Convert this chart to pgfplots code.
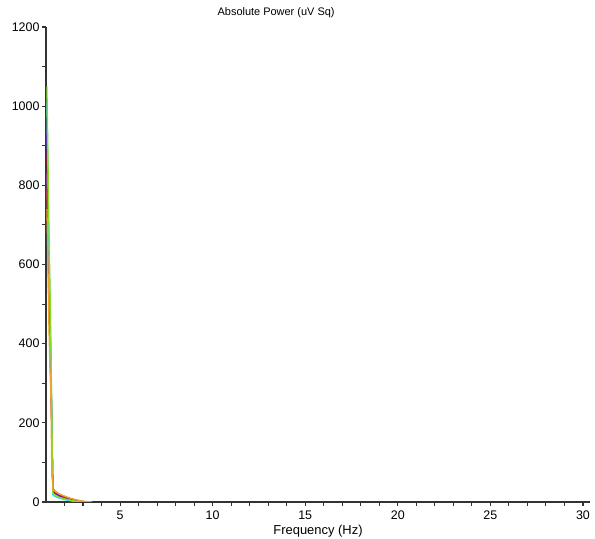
\documentclass[border=0pt]{standalone}
\usepackage{pgfplots}
\pgfplotsset{compat=1.18}
\usepackage{fontspec}
\setmainfont{Liberation Sans}

\definecolor{cgreen}{HTML}{88DD22}
\definecolor{ccyan}{HTML}{33DDDD}
\definecolor{cpurple}{HTML}{7A1FE0}
\definecolor{cdred}{HTML}{A01010}
\definecolor{cmag}{HTML}{B050F0}
\definecolor{cred}{HTML}{F04010}
\definecolor{corange}{HTML}{F0A030}
\definecolor{axgray}{HTML}{333333}

\begin{document}
\begin{tikzpicture}
\begin{axis}[
  scale only axis,
  width=544bp, height=475bp,
  xmin=1, xmax=30.38,
  ymin=0, ymax=1200,
  axis lines=left,
  axis line style={axgray, line width=1.5pt, -},
  xtick={5,10,...,30},
  minor xtick={2,3,...,30},
  ytick={0,200,...,1200},
  minor ytick={100,300,...,1100},
  tick align=outside,
  major tick length=4bp,
  minor tick length=4bp,
  tick style={axgray, line width=1.1pt},
  ticklabel style={font=\fontsize{12.5}{14}\selectfont},
  /pgf/number format/assume math mode=true,
  /pgf/number format/1000 sep={},
  yticklabel style={xshift=1bp},
  xticklabel style={yshift=-1bp},
  xlabel={Frequency (Hz)},
  xlabel style={font=\fontsize{13}{15}\selectfont, yshift=1bp},
  title={Absolute Power (uV Sq)},
  title style={font=\fontsize{11}{12}\selectfont, at={(axis description cs:0.423,1)}, anchor=south, yshift=0bp},
  clip=true,
  every axis plot/.append style={line width=1.3pt},
]
\addplot[cred] coordinates {(1.05,790)(1.10,680)(1.15,520)(1.21,400)(1.26,300)(1.31,195)(1.37,35)(1.48,28)(1.7,20)(2.0,13)(2.3,8)(2.6,4)(2.9,1)(3.2,0)};
\addplot[cmag] coordinates {(1.05,830)(1.10,720)(1.15,560)(1.21,420)(1.26,320)(1.31,200)(1.37,30)(1.48,24)(1.7,17)(2.0,11)(2.3,6)(2.6,2)(2.9,0)};
\addplot[cdred] coordinates {(1.05,880)(1.10,760)(1.15,590)(1.21,450)(1.26,335)(1.31,205)(1.37,28)(1.48,22)(1.7,16)(2.0,10)(2.3,6)(2.6,2)(2.9,0)};
\addplot[cpurple] coordinates {(1.05,940)(1.10,800)(1.15,615)(1.21,480)(1.26,355)(1.31,215)(1.37,25)(1.48,20)(1.7,14)(2.0,9)(2.3,5)(2.6,2)(2.9,0)};
\addplot[ccyan] coordinates {(1.05,1010)(1.10,860)(1.15,650)(1.21,530)(1.26,380)(1.31,235)(1.37,18)(1.48,14)(1.7,10)(2.0,6)(2.3,3)(2.6,1)(2.9,0)};
\addplot[cgreen] coordinates {(1.05,1050)(1.10,890)(1.15,720)(1.21,560)(1.26,410)(1.31,245)(1.37,22)(1.48,18)(1.7,12)(2.0,8)(2.3,5)(2.6,2)(2.9,0)};
\addplot[corange] coordinates {(1.05,740)(1.10,620)(1.15,460)(1.21,340)(1.26,280)(1.31,90)(1.37,32)(1.48,27)(1.7,21)(2.0,15)(2.3,10)(2.6,6)(2.9,3)(3.2,1)(3.5,0)};
\coordinate (bl) at (rel axis cs:0,0);
\coordinate (tr) at (rel axis cs:1,1);
\end{axis}
\pgfresetboundingbox
\path ([shift={(-46bp,-37bp)}]bl) rectangle ([shift={(5bp,27bp)}]tr);
\end{tikzpicture}
\end{document}
